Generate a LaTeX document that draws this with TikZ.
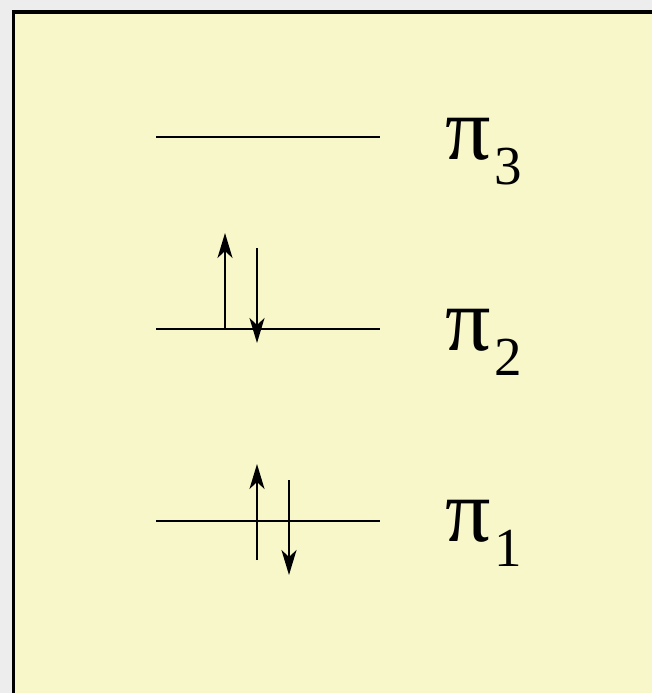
\documentclass[tikz,border=0pt]{standalone}
\usepackage{fontspec}
\setmainfont{Liberation Serif}
\usetikzlibrary{arrows.meta, positioning}
\definecolor{boxbg}{HTML}{F8F7C9}
\definecolor{pagebg}{HTML}{EDEDED}

\begin{document}
\begin{tikzpicture}[x=1pt, y=-1pt,
  level/.style={line width=2.5pt},
  spin/.style={line width=2.2pt, -{Stealth[length=25pt, width=15pt, inset=7pt]}},
  orb/.style={anchor=base west, inner sep=0pt, font=\fontsize{90}{90}\selectfont}]

  % page and frame
  \fill[pagebg] (0,0) rectangle (652,693);
  \useasboundingbox (0,0) rectangle (652,693);
  \filldraw[fill=boxbg, draw=black, line width=3.3pt] (13.5,12) rectangle (720,760);

  % energy levels
  \foreach \name/\y in {p3/137, p2/329, p1/521} {
    \coordinate (\name w) at (156,\y);
    \coordinate (\name e) at (380,\y);
    \draw[level] (\name w) -- (\name e);
  }

  \node[orb] (lab3) at (445,159) {π\kern4pt\raisebox{-25pt}{\fontsize{55}{55}\selectfont 3}};
  \node[orb] (lab2) at (445,350) {π\kern4pt\raisebox{-25pt}{\fontsize{55}{55}\selectfont 2}};
  \node[orb] (lab1) at (445,541) {π\kern4pt\raisebox{-25pt}{\fontsize{55}{55}\selectfont 1}};

  % electrons in pi2
  \coordinate (u2a) at (225,329);
  \coordinate (u2b) at (225,233);
  \coordinate (d2a) at (257,248);
  \coordinate (d2b) at (257,343);
  \draw[spin] (u2a) -- (u2b);
  \draw[spin] (d2a) -- (d2b);

  % electrons in pi1
  \coordinate (u1a) at (257,560);
  \coordinate (u1b) at (257,464);
  \coordinate (d1a) at (289,480);
  \coordinate (d1b) at (289,575);
  \draw[spin] (u1a) -- (u1b);
  \draw[spin] (d1a) -- (d1b);
\end{tikzpicture}
\end{document}
